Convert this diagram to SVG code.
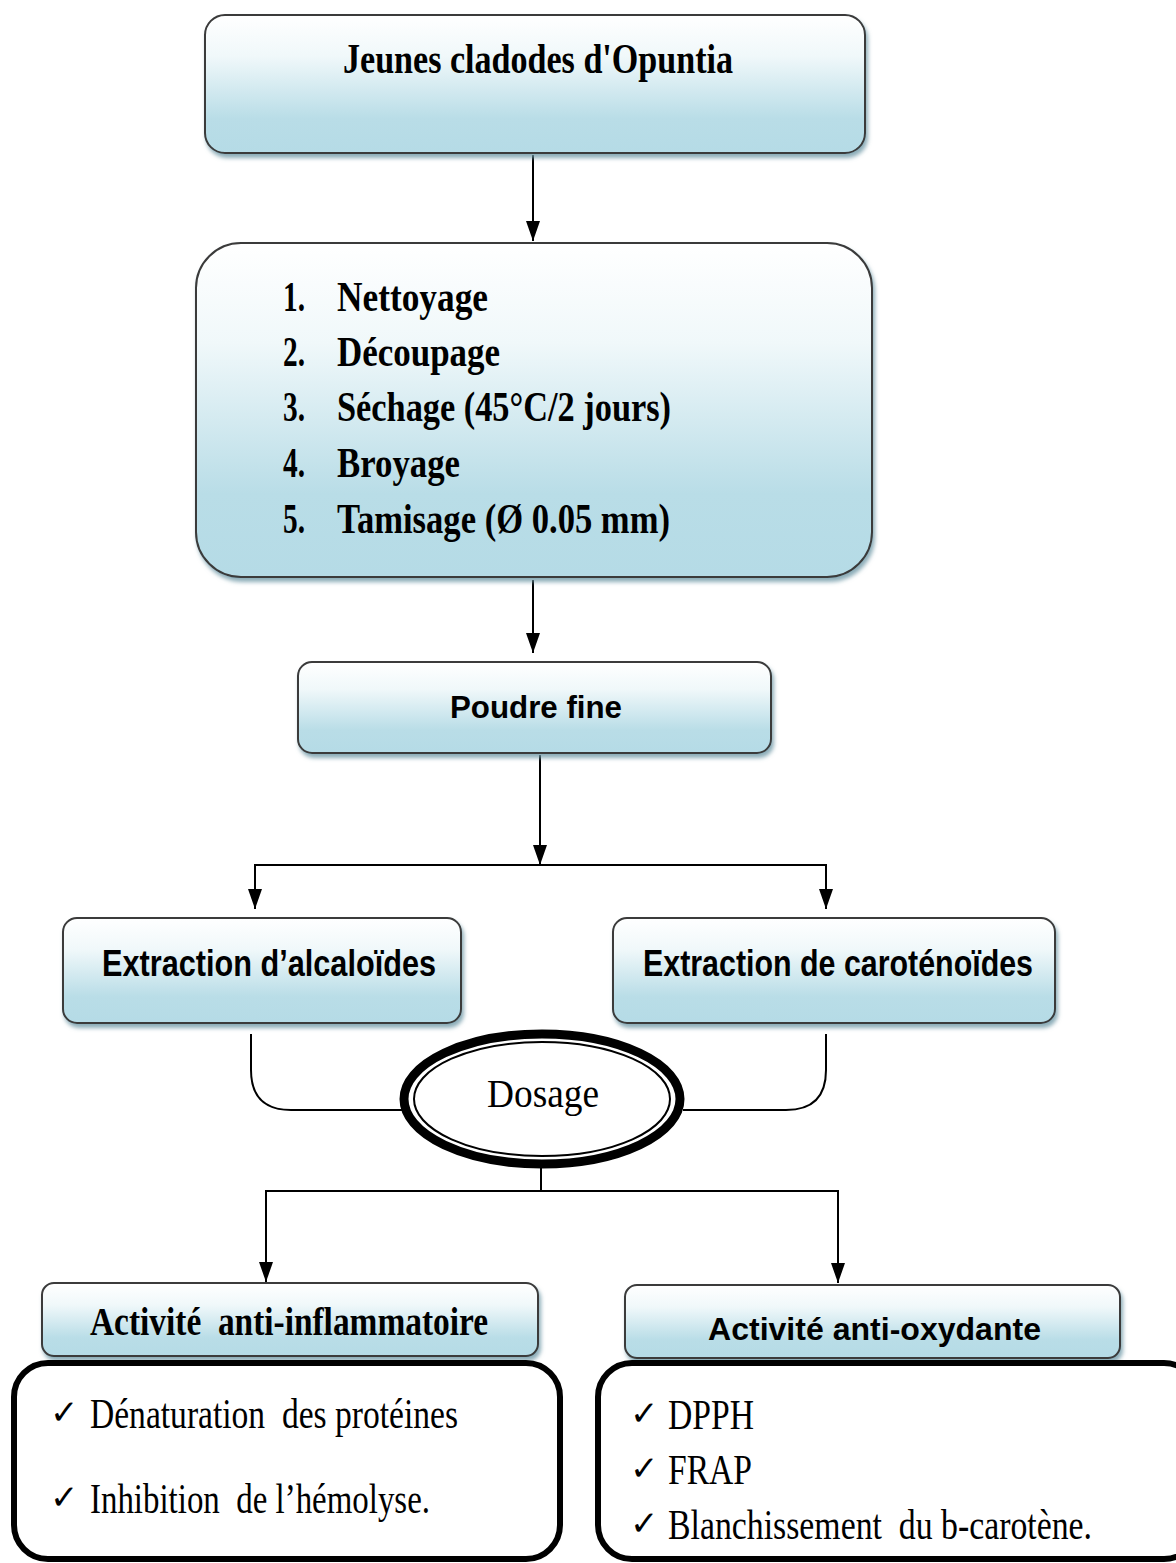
<svg xmlns="http://www.w3.org/2000/svg" width="1176" height="1563" viewBox="0 0 1176 1563">
<defs>
<linearGradient id="g" x1="0" y1="0" x2="0" y2="1">
<stop offset="0" stop-color="#ffffff"/>
<stop offset="0.3" stop-color="#f0f8fa"/>
<stop offset="0.75" stop-color="#b9dde7"/>
<stop offset="1" stop-color="#b5dbe6"/>
</linearGradient>
<filter id="sh" x="-5%" y="-10%" width="115%" height="130%">
<feDropShadow dx="2" dy="4" stdDeviation="2" flood-color="#6e98a6" flood-opacity="0.8"/>
</filter>
<marker id="ar" viewBox="0 0 20 14" refX="20" refY="7" markerWidth="20" markerHeight="14" markerUnits="userSpaceOnUse" orient="auto">
<path d="M0,0 L20,7 L0,14 z" fill="#000"/>
</marker>
<style>
.box{fill:url(#g);stroke:#3a3a3a;stroke-width:2;filter:url(#sh)}
.lst{fill:#fff;stroke:#000;stroke-width:6}
.ln{fill:none;stroke:#000;stroke-width:2}
.sb{font-family:"Liberation Serif",serif;font-weight:bold;fill:#000}
.sr{font-family:"Liberation Serif",serif;fill:#000}
.ss{font-family:"Liberation Sans",sans-serif;font-weight:bold;fill:#000}
.ck{font-family:"DejaVu Sans",sans-serif;font-size:34px;fill:#000}
</style>
</defs>
<g id="connectors">
<line class="ln" x1="533" y1="155" x2="533" y2="241" marker-end="url(#ar)"/>
<line class="ln" x1="533" y1="580" x2="533" y2="653" marker-end="url(#ar)"/>
<line class="ln" x1="540" y1="755" x2="540" y2="865" marker-end="url(#ar)"/>
<line class="ln" x1="255" y1="865" x2="826" y2="865"/>
<line class="ln" x1="255" y1="864" x2="255" y2="909" marker-end="url(#ar)"/>
<line class="ln" x1="826" y1="864" x2="826" y2="909" marker-end="url(#ar)"/>
<path class="ln" d="M251,1034 V1070 Q251,1110 291,1110 H402"/>
<path class="ln" d="M826,1034 V1070 Q826,1110 786,1110 H683"/>
<line class="ln" x1="541" y1="1168" x2="541" y2="1191"/>
<line class="ln" x1="266" y1="1191" x2="838" y2="1191"/>
<line class="ln" x1="266" y1="1190" x2="266" y2="1282" marker-end="url(#ar)"/>
<line class="ln" x1="838" y1="1190" x2="838" y2="1283" marker-end="url(#ar)"/>
</g>
<g id="n1">
<rect class="box" x="205" y="15" width="660" height="138" rx="20"/>
<text class="sb" x="343" y="73" font-size="42" textLength="390" lengthAdjust="spacingAndGlyphs">Jeunes cladodes d'Opuntia</text>
</g>
<g id="n2">
<rect class="box" x="196" y="243" width="676" height="334" rx="45"/>
<g class="sb" font-size="42">
<text x="283" y="311" textLength="22" lengthAdjust="spacingAndGlyphs">1.</text>
<text x="337" y="311" textLength="151" lengthAdjust="spacingAndGlyphs">Nettoyage</text>
<text x="283" y="366" textLength="22" lengthAdjust="spacingAndGlyphs">2.</text>
<text x="337" y="366" textLength="163" lengthAdjust="spacingAndGlyphs">Découpage</text>
<text x="283" y="421" textLength="22" lengthAdjust="spacingAndGlyphs">3.</text>
<text x="337" y="421" textLength="334" lengthAdjust="spacingAndGlyphs">Séchage (45°C/2 jours)</text>
<text x="283" y="477" textLength="22" lengthAdjust="spacingAndGlyphs">4.</text>
<text x="337" y="477" textLength="123" lengthAdjust="spacingAndGlyphs">Broyage</text>
<text x="283" y="533" textLength="22" lengthAdjust="spacingAndGlyphs">5.</text>
<text x="337" y="533" textLength="333" lengthAdjust="spacingAndGlyphs">Tamisage (Ø 0.05 mm)</text>
</g>
</g>
<g id="n3">
<rect class="box" x="298" y="662" width="473" height="91" rx="14"/>
<text class="ss" x="450" y="718" font-size="32" textLength="172" lengthAdjust="spacingAndGlyphs">Poudre fine</text>
</g>
<g id="n4">
<rect class="box" x="63" y="918" width="398" height="105" rx="14"/>
<text class="ss" x="102" y="976" font-size="36" textLength="334" lengthAdjust="spacingAndGlyphs">Extraction d’alcaloïdes</text>
</g>
<g id="n5">
<rect class="box" x="613" y="918" width="442" height="105" rx="14"/>
<text class="ss" x="643" y="976" font-size="36" textLength="390" lengthAdjust="spacingAndGlyphs">Extraction de caroténoïdes</text>
</g>
<g id="n6">
<ellipse cx="542" cy="1099" rx="138" ry="65" fill="#fff" stroke="#000" stroke-width="9"/>
<ellipse cx="542" cy="1099" rx="128" ry="57" fill="none" stroke="#000" stroke-width="2"/>
<text class="sr" x="543" y="1107" font-size="40" text-anchor="middle" textLength="112" lengthAdjust="spacingAndGlyphs">Dosage</text>
</g>
<g id="n7">
<rect class="box" x="42" y="1283" width="496" height="73" rx="12"/>
<text class="sb" x="90" y="1335" font-size="40" textLength="398" lengthAdjust="spacingAndGlyphs" xml:space="preserve">Activité  anti-inflammatoire</text>
</g>
<g id="n8">
<rect class="box" x="625" y="1285" width="495" height="73" rx="12"/>
<text class="ss" x="708" y="1340" font-size="32" textLength="333" lengthAdjust="spacingAndGlyphs">Activité anti-oxydante</text>
</g>
<g id="n9">
<rect class="lst" x="14" y="1363" width="546" height="196" rx="34"/>
<g class="sr" font-size="42">
<text class="ck" x="50" y="1424">✓</text>
<text x="90" y="1428" textLength="368" lengthAdjust="spacingAndGlyphs" xml:space="preserve">Dénaturation  des protéines</text>
<text class="ck" x="50" y="1509">✓</text>
<text x="90" y="1513" textLength="340" lengthAdjust="spacingAndGlyphs" xml:space="preserve">Inhibition  de l’hémolyse.</text>
</g>
</g>
<g id="n10">
<rect class="lst" x="598" y="1363" width="600" height="196" rx="34"/>
<g class="sr" font-size="42">
<text class="ck" x="630" y="1425">✓</text>
<text x="668" y="1429" textLength="86" lengthAdjust="spacingAndGlyphs">DPPH</text>
<text class="ck" x="630" y="1480">✓</text>
<text x="668" y="1484" textLength="84" lengthAdjust="spacingAndGlyphs">FRAP</text>
<text class="ck" x="630" y="1535">✓</text>
<text x="668" y="1539" textLength="424" lengthAdjust="spacingAndGlyphs" xml:space="preserve">Blanchissement  du b-carotène.</text>
</g>
</g>
</svg>
